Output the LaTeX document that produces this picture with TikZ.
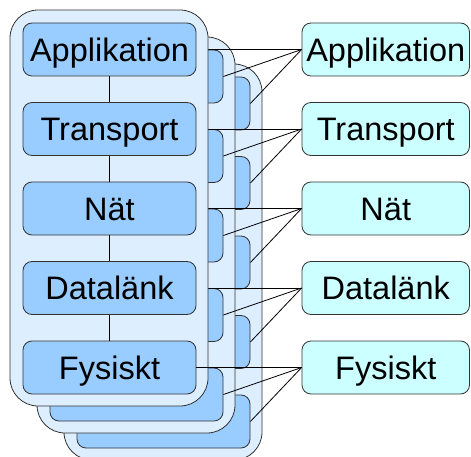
\documentclass[tikz,border=0pt]{standalone}
\usepackage{fontspec}
\setmainfont{Liberation Sans}
\definecolor{stackblue}{HTML}{DDEEFF}
\definecolor{layerblue}{HTML}{99CCFF}
\definecolor{peercyan}{HTML}{CCFFFF}
\begin{document}
\begin{tikzpicture}[x=1pt, y=-1pt]
  \tikzstyle{stack}=[rectangle, rounded corners=28pt, draw=black!80, fill=stackblue, line width=0.8pt, minimum width=198pt, minimum height=396pt, inner sep=0pt]
  \tikzstyle{layer}=[rectangle, rounded corners=9pt, draw=black!80, fill=layerblue, line width=0.8pt, minimum width=173pt, minimum height=53pt, inner sep=0pt, text height=23.3pt, text depth=0pt, font=\fontsize{32.5}{36}\selectfont]
  \tikzstyle{peer}=[layer, fill=peercyan, minimum width=167.5pt]
  \tikzstyle{wire}=[draw=black, line width=0.8pt]

  \useasboundingbox (0, 0) rectangle (471, 457);

  % rearmost host
  \node[stack] (s3) at (163, 262) {};
  \node[layer] (c1) at (163.5, 103.5) {};
  \node[layer] (c2) at (163.5, 183)   {};
  \node[layer] (c3) at (163.5, 262.5) {};
  \node[layer] (c4) at (163.5, 342)   {};
  \node[layer] (c5) at (163.5, 421.5) {};

  % middle host
  \node[stack] (s2) at (136, 235) {};
  \node[layer] (b1) at (136.5, 76.5)  {};
  \node[layer] (b2) at (136.5, 156)   {};
  \node[layer] (b3) at (136.5, 235.5) {};
  \node[layer] (b4) at (136.5, 315)   {};
  \node[layer] (b5) at (136.5, 394.5) {};

  % peer layers on the right
  \node[peer] (p1) at (385.75, 49.5)  {Applikation};
  \node[peer] (p2) at (385.75, 129)   {Transport};
  \node[peer] (p3) at (385.75, 208.5) {Nät};
  \node[peer] (p4) at (385.75, 288)   {Datalänk};
  \node[peer] (p5) at (385.75, 367.5) {Fysiskt};

  \node[layer, draw=none, fill=none] (a1) at (109.5, 49.5)  {};
  \node[layer, draw=none, fill=none] (a2) at (109.5, 129)   {};
  \node[layer, draw=none, fill=none] (a3) at (109.5, 208.5) {};
  \node[layer, draw=none, fill=none] (a4) at (109.5, 288)   {};
  \node[layer, draw=none, fill=none] (a5) at (109.5, 367.5) {};

  \path[wire] (p1.west) edge (a1.east);
  \path[wire] (p1.west) edge (b1.east);
  \path[wire] (p1.west) edge (c1.east);
  \path[wire] (p2.west) edge (a2.east);
  \path[wire] (p2.west) edge (b2.east);
  \path[wire] (p2.west) edge (c2.east);
  \path[wire] (p3.west) edge (a3.east);
  \path[wire] (p3.west) edge (b3.east);
  \path[wire] (p3.west) edge (c3.east);
  \path[wire] (p4.west) edge (a4.east);
  \path[wire] (p4.west) edge (b4.east);
  \path[wire] (p4.west) edge (c4.east);
  \path[wire] (p5.west) edge (b5.east);
  \path[wire] (p5.west) edge (c5.east);

  % front host
  \node[stack] (s1) at (109, 208) {};
  \node[layer] at (a1) {Applikation};
  \node[layer] at (a2) {Transport};
  \node[layer] at (a3) {Nät};
  \node[layer] at (a4) {Datalänk};
  \node[layer] at (a5) {Fysiskt};

  \path[wire] (a1) edge (a2);
  \path[wire] (a2) edge (a3);
  \path[wire] (a3) edge (a4);
  \path[wire] (a4) edge (a5);
  \path[wire] (p5.west) edge (a5.east);

\end{tikzpicture}
\end{document}
